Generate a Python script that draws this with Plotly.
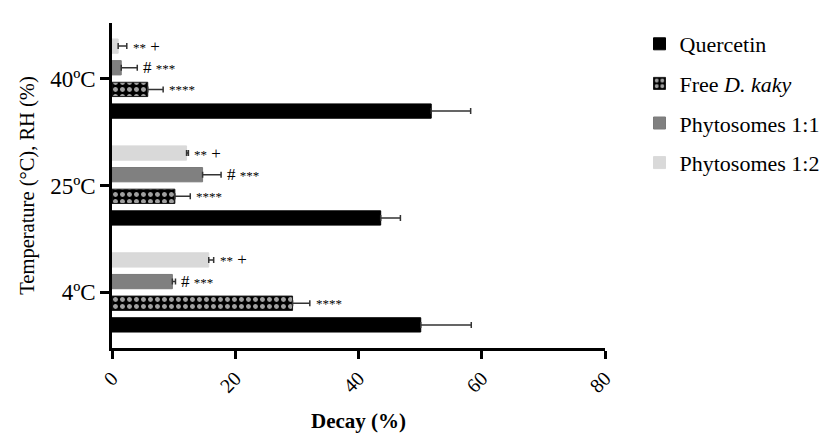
import plotly.graph_objects as go

categories = ["4ºC", "25ºC", "40ºC"]
series_names = ["Quercetin", "Free <i>D. kaky</i>", "Phytosomes 1:1", "Phytosomes 1:2"]
quercetin = [50.1, 43.6, 51.8]
quercetin_err = [8.2, 3.2, 6.4]
free_dkaky = [29.3, 10.2, 5.8]
free_dkaky_err = [2.8, 2.5, 2.5]
phyto_11 = [9.8, 14.7, 1.5]
phyto_11_err = [0.5, 3.0, 2.6]
phyto_12 = [15.7, 12.1, 1.0]
phyto_12_err = [0.8, 0.3, 1.4]
STAR = "<span style='font-size:13px;color:#000000'>{}</span>"
BIG = "<span style='font-size:17px;color:#000000'>{}</span>"
labels_free = [STAR.format("****")] * 3
labels_11 = [BIG.format("# ") + STAR.format("***")] * 3
labels_12 = [STAR.format("**") + BIG.format(" +")] * 3
x_ticks = [0, 20, 40, 60, 80]

FONT = "Liberation Serif"
values = [quercetin, free_dkaky, phyto_11, phyto_12]
errors = [quercetin_err, free_dkaky_err, phyto_11_err, phyto_12_err]
colors = ["#000000", "#000000", "#808080", "#d9d9d9"]
line_colors = ["#000000", "#1a1a1a", "#7a7a7a", "#d9d9d9"]

bargap = 0.19
bargroupgap = 0.34

fig = go.Figure()
for i, (name, vals, errs) in enumerate(zip(series_names, values, errors)):
    marker = dict(color=colors[i], line=dict(color=line_colors[i], width=1))
    if i == 1:
        marker["pattern"] = dict(shape=".", fgcolor="#a0a0a0", bgcolor="#000000",
                                 size=7, solidity=0.4, fillmode="replace")
    fig.add_trace(go.Bar(
        y=categories, x=vals, name=name, orientation="h",
        marker=marker, legendgroup=f"g{i}",
        error_x=dict(type="data", array=errs, arrayminus=[0]*len(errs), symmetric=False,
                     color="#333333", thickness=1.5, width=3),
    ))

slot = (1 - bargap) / 4
annots = []
for si, (vals, errs, labs) in enumerate([(free_dkaky, free_dkaky_err, labels_free),
                                         (phyto_11, phyto_11_err, labels_11),
                                         (phyto_12, phyto_12_err, labels_12)], start=1):
    off = (si - 1.5) * slot
    for ci in range(len(categories)):
        annots.append(dict(x=vals[ci] + errs[ci], y=ci + off, xref="x", yref="y",
                           text=labs[ci], showarrow=False, xanchor="left", yanchor="middle",
                           xshift=4, font=dict(family=FONT, size=17, color="#000000")))

fig.update_layout(
    width=830, height=433,
    margin=dict(l=104, r=233, t=15, b=89),
    paper_bgcolor="white", plot_bgcolor="white",
    barmode="group", bargap=bargap, bargroupgap=bargroupgap,
    font=dict(family=FONT, color="#000"),
    annotations=annots,
    legend=dict(x=1.07, y=1.0, xanchor="left", yanchor="top",
                font=dict(family=FONT, size=22), tracegroupgap=8,
                bgcolor="rgba(0,0,0,0)"),
    showlegend=True,
)
fig.update_xaxes(range=[0, 80], tickvals=x_ticks, ticktext=[str(t) for t in x_ticks],
                 tickangle=-45, tickfont=dict(family=FONT, size=20),
                 ticks="outside", ticklen=8, tickwidth=2.5, tickcolor="#000",
                 showline=True, linecolor="#000", linewidth=2.5, showgrid=False,
                 zeroline=False,
                 title=dict(text="<b>Decay (%)</b>", font=dict(family=FONT, size=21), standoff=18))
fig.update_yaxes(categoryorder="array", categoryarray=categories, range=[-0.52, 2.52],
                 tickfont=dict(family=FONT, size=23),
                 ticks="outside", ticklen=9, tickwidth=2.5, tickcolor="#000",
                 showline=True, linecolor="#000", linewidth=2.5, showgrid=False,
                 title=dict(text="Temperature (°C), RH (%)", font=dict(family=FONT, size=20.5), standoff=10))

fig.write_html("out.html")
